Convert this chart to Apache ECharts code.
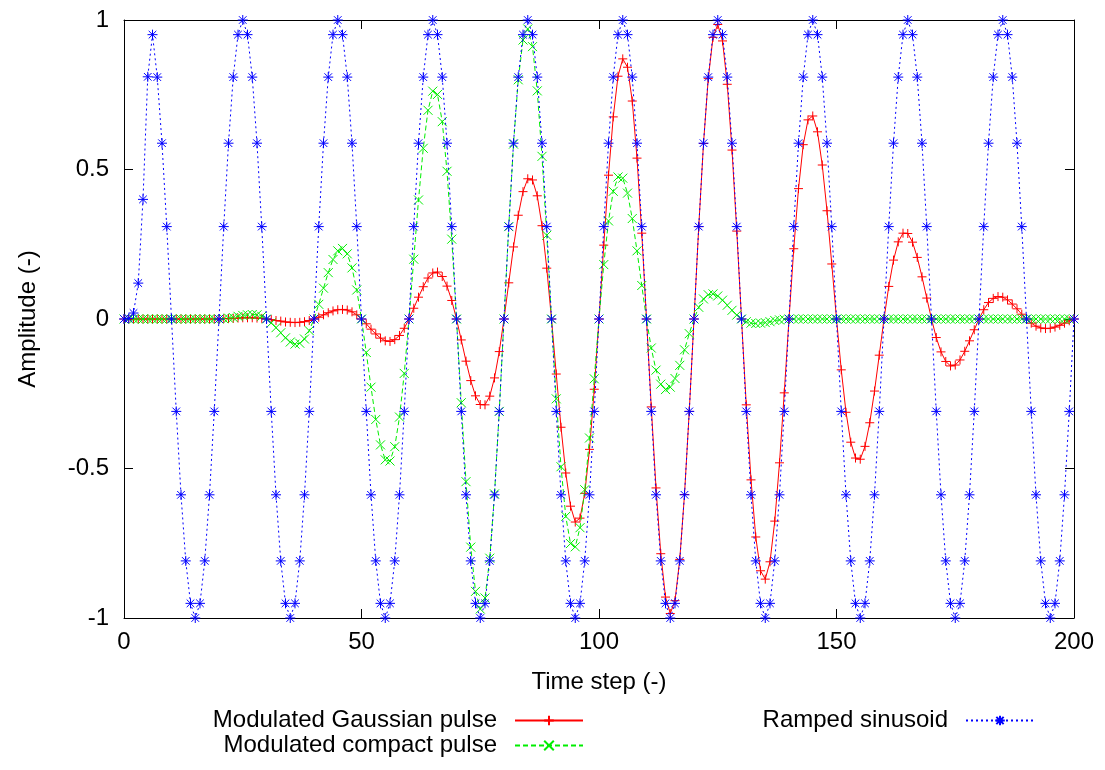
<!DOCTYPE html>
<html>
<head>
<meta charset="utf-8">
<script src="https://cdn.jsdelivr.net/npm/echarts@6/dist/echarts.min.js"></script>
<style>
html,body{margin:0;padding:0;background:#ffffff;}
#chart{width:1105px;height:770px;}
</style>
</head>
<body>
<div id="chart"></div>
<script>
// ---- data ----
const timeSteps = [
0,1,2,3,4,5,6,7,8,9,
10,11,12,13,14,15,16,17,18,19,
20,21,22,23,24,25,26,27,28,29,
30,31,32,33,34,35,36,37,38,39,
40,41,42,43,44,45,46,47,48,49,
50,51,52,53,54,55,56,57,58,59,
60,61,62,63,64,65,66,67,68,69,
70,71,72,73,74,75,76,77,78,79,
80,81,82,83,84,85,86,87,88,89,
90,91,92,93,94,95,96,97,98,99,
100,101,102,103,104,105,106,107,108,109,
110,111,112,113,114,115,116,117,118,119,
120,121,122,123,124,125,126,127,128,129,
130,131,132,133,134,135,136,137,138,139,
140,141,142,143,144,145,146,147,148,149,
150,151,152,153,154,155,156,157,158,159,
160,161,162,163,164,165,166,167,168,169,
170,171,172,173,174,175,176,177,178,179,
180,181,182,183,184,185,186,187,188,189,
190,191,192,193,194,195,196,197,198,199,
200];

const gaussianPulse = [
0,0,0,0,0,0,0,0,0,0,
0,0,0,0,0,0,0,0,0,0,
0,0.001,0.002,0.002,0.003,0.004,0.004,0.004,0.003,0.002,
0,-0.002,-0.005,-0.007,-0.010,-0.011,-0.012,-0.011,-0.009,-0.005,
0,0.006,0.014,0.021,0.027,0.031,0.032,0.030,0.024,0.014,
0,-0.016,-0.034,-0.050,-0.064,-0.073,-0.075,-0.069,-0.055,-0.031,
0,0.036,0.073,0.108,0.137,0.154,0.157,0.142,0.110,0.062,
0,-0.070,-0.141,-0.206,-0.257,-0.286,-0.287,-0.258,-0.197,-0.109,
0,0.121,0.241,0.347,0.426,0.469,0.465,0.412,0.312,0.170,
0,-0.184,-0.362,-0.515,-0.626,-0.679,-0.666,-0.583,-0.436,-0.235,
0,0.247,0.481,0.676,0.812,0.870,0.842,0.729,0.538,0.287,
0,-0.294,-0.565,-0.785,-0.930,-0.985,-0.942,-0.804,-0.587,-0.309,
0,0.309,0.587,0.804,0.942,0.985,0.930,0.785,0.565,0.294,
0,-0.287,-0.538,-0.729,-0.842,-0.870,-0.812,-0.676,-0.481,-0.247,
0,0.235,0.436,0.583,0.666,0.679,0.626,0.515,0.362,0.184,
0,-0.170,-0.312,-0.412,-0.465,-0.469,-0.426,-0.347,-0.241,-0.121,
0,0.109,0.197,0.258,0.287,0.286,0.257,0.206,0.141,0.070,
0,-0.062,-0.110,-0.142,-0.157,-0.154,-0.137,-0.108,-0.073,-0.036,
0,0.031,0.055,0.069,0.075,0.073,0.064,0.050,0.034,0.016,
0,-0.014,-0.024,-0.030,-0.032,-0.031,-0.027,-0.021,-0.014,-0.006,
0];

const compactPulse = [
0,0,0,0,0,0,0,0,0,0,
0,0,0,0,0,0,0,0,0,0,
0,0.001,0.003,0.005,0.009,0.012,0.014,0.015,0.014,0.009,
0,-0.013,-0.029,-0.046,-0.063,-0.077,-0.084,-0.081,-0.067,-0.039,
0,0.049,0.103,0.155,0.199,0.228,0.236,0.218,0.171,0.097,
0,-0.112,-0.228,-0.336,-0.421,-0.471,-0.475,-0.427,-0.328,-0.182,
0,0.200,0.398,0.571,0.698,0.762,0.751,0.660,0.494,0.267,
0,-0.280,-0.544,-0.763,-0.911,-0.970,-0.933,-0.800,-0.585,-0.309,
0,0.309,0.585,0.800,0.933,0.970,0.911,0.763,0.544,0.280,
0,-0.267,-0.494,-0.660,-0.751,-0.762,-0.698,-0.571,-0.398,-0.200,
0,0.182,0.328,0.427,0.475,0.471,0.421,0.336,0.228,0.112,
0,-0.097,-0.171,-0.218,-0.236,-0.228,-0.199,-0.155,-0.103,-0.049,
0,0.039,0.067,0.081,0.084,0.077,0.063,0.046,0.029,0.013,
0,-0.009,-0.014,-0.015,-0.014,-0.012,-0.009,-0.005,-0.003,-0.001,
0,0,0,0,0,0,0,0,0,0,
0,0,0,0,0,0,0,0,0,0,
0,0,0,0,0,0,0,0,0,0,
0,0,0,0,0,0,0,0,0,0,
0,0,0,0,0,0,0,0,0,0,
0,0,0,0,0,0,0,0,0,0,
0];

const rampedSinusoid = [
0,0.002,0.02,0.12,0.40,0.81,0.951,0.809,0.588,0.309,
0,-0.309,-0.588,-0.809,-0.951,-1,-0.951,-0.809,-0.588,-0.309,
0,0.309,0.588,0.809,0.951,1,0.951,0.809,0.588,0.309,
0,-0.309,-0.588,-0.809,-0.951,-1,-0.951,-0.809,-0.588,-0.309,
0,0.309,0.588,0.809,0.951,1,0.951,0.809,0.588,0.309,
0,-0.309,-0.588,-0.809,-0.951,-1,-0.951,-0.809,-0.588,-0.309,
0,0.309,0.588,0.809,0.951,1,0.951,0.809,0.588,0.309,
0,-0.309,-0.588,-0.809,-0.951,-1,-0.951,-0.809,-0.588,-0.309,
0,0.309,0.588,0.809,0.951,1,0.951,0.809,0.588,0.309,
0,-0.309,-0.588,-0.809,-0.951,-1,-0.951,-0.809,-0.588,-0.309,
0,0.309,0.588,0.809,0.951,1,0.951,0.809,0.588,0.309,
0,-0.309,-0.588,-0.809,-0.951,-1,-0.951,-0.809,-0.588,-0.309,
0,0.309,0.588,0.809,0.951,1,0.951,0.809,0.588,0.309,
0,-0.309,-0.588,-0.809,-0.951,-1,-0.951,-0.809,-0.588,-0.309,
0,0.309,0.588,0.809,0.951,1,0.951,0.809,0.588,0.309,
0,-0.309,-0.588,-0.809,-0.951,-1,-0.951,-0.809,-0.588,-0.309,
0,0.309,0.588,0.809,0.951,1,0.951,0.809,0.588,0.309,
0,-0.309,-0.588,-0.809,-0.951,-1,-0.951,-0.809,-0.588,-0.309,
0,0.309,0.588,0.809,0.951,1,0.951,0.809,0.588,0.309,
0,-0.309,-0.588,-0.809,-0.951,-1,-0.951,-0.809,-0.588,-0.309,
0];

const seriesNames = ['Modulated Gaussian pulse', 'Modulated compact pulse', 'Ramped sinusoid'];
const xAxisTitle = 'Time step (-)';
const yAxisTitle = 'Amplitude (-)';
const xTickStep = 50;   // tick labels 0, 50, 100, 150, 200
const yTickStep = 0.5;  // tick labels -1, -0.5, 0, 0.5, 1

// ---- chart ----
const FONT = '"Liberation Sans", Arial, Helvetica, sans-serif';
const pairs = (ys) => timeSteps.map((t, i) => [t, ys[i]]);

const plusSym  = 'path://M0,5L10,5M5,0L5,10';
const crossSym = 'path://M0,0L10,10M0,10L10,0';
const starSym  = 'path://M0,5L10,5M5,0L5,10M1.2,1.2L8.8,8.8M1.2,8.8L8.8,1.2';

const axisLineStyle = { color: '#000000', width: 1 };
const labelStyle = { fontSize: 24, color: '#000000', fontFamily: FONT };

const chart = echarts.init(document.getElementById('chart'), null, { renderer: 'canvas' });

const legendCommon = {
  orient: 'vertical',
  align: 'right',
  top: 708,
  itemWidth: 68,
  itemHeight: 12,
  itemGap: 0,
  padding: 0,
  selectedMode: false,
  textStyle: { fontSize: 24, color: '#000000', fontFamily: FONT, lineHeight: 25, padding: [0, 13, 0, 0] }
};

chart.setOption({
  animation: false,
  backgroundColor: '#ffffff',
  grid: { left: 124, right: 31, top: 20, bottom: 152, containLabel: false },
  legend: [
    Object.assign({}, legendCommon, { data: [seriesNames[0], seriesNames[1]], right: 521 }),
    Object.assign({}, legendCommon, { data: [seriesNames[2]], right: 70 })
  ],
  xAxis: [
    {
      type: 'value', min: 0, max: 200, interval: xTickStep, position: 'bottom',
      axisLine: { show: true, onZero: false, lineStyle: axisLineStyle },
      axisTick: { show: true, inside: true, length: 9, lineStyle: axisLineStyle },
      axisLabel: Object.assign({ margin: 12 }, labelStyle),
      splitLine: { show: false },
      name: xAxisTitle, nameLocation: 'middle', nameGap: 52,
      nameTextStyle: { fontSize: 24, color: '#000000', fontFamily: FONT }
    },
    {
      type: 'value', min: 0, max: 200, interval: xTickStep, position: 'top',
      axisLine: { show: true, onZero: false, lineStyle: axisLineStyle },
      axisTick: { show: true, inside: true, length: 9, lineStyle: axisLineStyle },
      axisLabel: { show: false },
      splitLine: { show: false }
    }
  ],
  yAxis: [
    {
      type: 'value', min: -1, max: 1, interval: yTickStep, position: 'left',
      axisLine: { show: true, onZero: false, lineStyle: axisLineStyle },
      axisTick: { show: true, inside: true, length: 9, lineStyle: axisLineStyle },
      axisLabel: Object.assign({ margin: 15 }, labelStyle),
      splitLine: { show: false },
      name: yAxisTitle, nameLocation: 'middle', nameRotate: 90, nameGap: 84,
      nameTextStyle: { fontSize: 24, color: '#000000', fontFamily: FONT }
    },
    {
      type: 'value', min: -1, max: 1, interval: yTickStep, position: 'right',
      axisLine: { show: true, onZero: false, lineStyle: axisLineStyle },
      axisTick: { show: true, inside: true, length: 9, lineStyle: axisLineStyle },
      axisLabel: { show: false },
      splitLine: { show: false }
    }
  ],
  series: [
    {
      name: seriesNames[0], type: 'line', data: pairs(gaussianPulse),
      xAxisIndex: 0, yAxisIndex: 0, clip: false,
      symbol: plusSym, symbolSize: 9, showAllSymbol: true,
      lineStyle: { color: '#ff0000', width: 1, type: 'solid' },
      itemStyle: { color: '#ff0000', borderColor: '#ff0000', borderWidth: 1 },
      emphasis: { disabled: true }, z: 2
    },
    {
      name: seriesNames[1], type: 'line', data: pairs(compactPulse),
      xAxisIndex: 0, yAxisIndex: 0, clip: false,
      symbol: crossSym, symbolSize: 9, showAllSymbol: true,
      lineStyle: { color: '#00ee00', width: 1, type: [5, 3] },
      itemStyle: { color: '#00ee00', borderColor: '#00ee00', borderWidth: 1 },
      emphasis: { disabled: true }, z: 3
    },
    {
      name: seriesNames[2], type: 'line', data: pairs(rampedSinusoid),
      xAxisIndex: 0, yAxisIndex: 0, clip: false,
      symbol: starSym, symbolSize: 10, showAllSymbol: true,
      lineStyle: { color: '#0000ff', width: 1, type: [2, 3] },
      itemStyle: { color: '#0000ff', borderColor: '#0000ff', borderWidth: 1 },
      emphasis: { disabled: true }, z: 4
    }
  ]
});
</script>
</body>
</html>
